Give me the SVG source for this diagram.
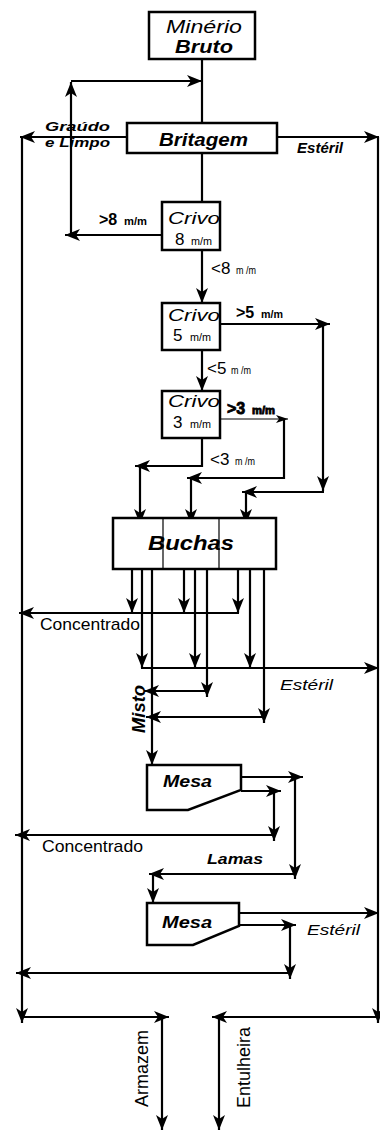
<svg xmlns="http://www.w3.org/2000/svg" width="380" height="1131" viewBox="0 0 380 1131">
<style>
.box{fill:#fff;stroke:#000;stroke-width:2.5}
.ln{fill:none;stroke:#000;stroke-width:2.2}
.thin{fill:none;stroke:#000;stroke-width:1.2}
text{font-family:"Liberation Sans",Arial,sans-serif;fill:#000}
.bi{font-style:italic;font-weight:bold}
.it{font-style:italic}
.b{font-weight:bold}
.sm{font-size:10px}
</style>
<defs>
<marker id="a" markerWidth="16" markerHeight="12" refX="15" refY="6" orient="auto" markerUnits="userSpaceOnUse"><path d="M0,0 L15,6 L0,12 L4,6 z" fill="#000"/></marker>
<marker id="s" markerWidth="12" markerHeight="8" refX="12" refY="4" orient="auto" markerUnits="userSpaceOnUse"><path d="M0,0 L12,4 L0,8 L3,4 z" fill="#000"/></marker>
</defs>
<rect width="380" height="1131" fill="#fff"/>
<g id="connectors">
<line class="ln" x1="202" y1="59" x2="202" y2="123"/>
<line class="ln" x1="162" y1="235" x2="65" y2="235" marker-end="url(#a)"/>
<line class="ln" x1="71" y1="233" x2="71" y2="82" marker-end="url(#a)"/>
<line class="ln" x1="71" y1="81" x2="202" y2="81" marker-end="url(#a)"/>
<line class="ln" x1="127" y1="137" x2="20" y2="137" marker-end="url(#a)"/>
<line class="ln" x1="22" y1="137" x2="22" y2="1023" marker-end="url(#a)"/>
<line class="ln" x1="277" y1="137" x2="379" y2="137" marker-end="url(#a)"/>
<line class="ln" x1="378" y1="137" x2="378" y2="1023" marker-end="url(#a)"/>
<line class="ln" x1="202" y1="153" x2="202" y2="202"/>
<line class="ln" x1="202" y1="250" x2="202" y2="303" marker-end="url(#a)"/>
<line class="ln" x1="220" y1="324" x2="330" y2="324" marker-end="url(#a)"/>
<line class="ln" x1="323" y1="324" x2="323" y2="491" marker-end="url(#a)"/>
<line class="ln" x1="324" y1="492" x2="242" y2="492" marker-end="url(#a)"/>
<line class="ln" x1="246" y1="492" x2="246" y2="524" marker-end="url(#a)"/>
<line class="ln" x1="202" y1="350" x2="202" y2="391" marker-end="url(#a)"/>
<line class="thin" x1="220" y1="419" x2="288" y2="419" marker-end="url(#s)"/>
<line class="ln" x1="284" y1="419" x2="284" y2="479"/>
<line class="ln" x1="285" y1="478" x2="187" y2="478" marker-end="url(#a)"/>
<line class="ln" x1="191" y1="478" x2="191" y2="524" marker-end="url(#a)"/>
<polyline class="ln" points="202,438 202,466 135,466" marker-end="url(#a)"/>
<line class="ln" x1="140" y1="466" x2="140" y2="524" marker-end="url(#a)"/>
<line class="ln" x1="132" y1="570" x2="132" y2="613" marker-end="url(#a)"/>
<line class="ln" x1="184" y1="570" x2="184" y2="613" marker-end="url(#a)"/>
<line class="ln" x1="238" y1="570" x2="238" y2="613" marker-end="url(#a)"/>
<line class="ln" x1="239" y1="613" x2="19" y2="613" marker-end="url(#a)"/>
<line class="ln" x1="142" y1="570" x2="142" y2="668" marker-end="url(#a)"/>
<line class="ln" x1="195" y1="570" x2="195" y2="668" marker-end="url(#a)"/>
<line class="ln" x1="250" y1="570" x2="250" y2="668" marker-end="url(#a)"/>
<line class="ln" x1="141" y1="668" x2="379" y2="668" marker-end="url(#a)"/>
<line class="ln" x1="207" y1="570" x2="207" y2="697" marker-end="url(#a)"/>
<line class="ln" x1="208" y1="691" x2="144" y2="691" marker-end="url(#a)"/>
<line class="ln" x1="264" y1="570" x2="264" y2="723" marker-end="url(#a)"/>
<line class="ln" x1="265" y1="717" x2="146" y2="717" marker-end="url(#a)"/>
<line class="ln" x1="152" y1="570" x2="152" y2="765" marker-end="url(#a)"/>
<line class="ln" x1="241" y1="777" x2="303" y2="777" marker-end="url(#a)"/>
<line class="ln" x1="295" y1="777" x2="295" y2="879" marker-end="url(#a)"/>
<line class="ln" x1="296" y1="874" x2="149" y2="874" marker-end="url(#a)"/>
<line class="ln" x1="153" y1="874" x2="153" y2="903" marker-end="url(#a)"/>
<line class="ln" x1="241" y1="791" x2="281" y2="791" marker-end="url(#a)"/>
<line class="ln" x1="274" y1="791" x2="274" y2="841" marker-end="url(#a)"/>
<line class="ln" x1="275" y1="835" x2="15" y2="835" marker-end="url(#a)"/>
<line class="ln" x1="239" y1="913" x2="379" y2="913" marker-end="url(#a)"/>
<line class="ln" x1="239" y1="925" x2="296" y2="925" marker-end="url(#a)"/>
<line class="ln" x1="290" y1="925" x2="290" y2="979" marker-end="url(#a)"/>
<line class="ln" x1="291" y1="973" x2="16" y2="973" marker-end="url(#a)"/>
<line class="ln" x1="22" y1="1017" x2="169" y2="1017" marker-end="url(#a)"/>
<line class="ln" x1="162" y1="1017" x2="162" y2="1130" marker-end="url(#a)"/>
<line class="ln" x1="379" y1="1017" x2="212" y2="1017" marker-end="url(#a)"/>
<line class="ln" x1="219" y1="1017" x2="219" y2="1130" marker-end="url(#a)"/>
</g>
<g id="minerio">
<rect class="box" x="149" y="12" width="106" height="47"/>
<text class="it" x="166" y="33" font-size="18" textLength="76" lengthAdjust="spacingAndGlyphs">Minério</text>
<text class="bi" x="175" y="53" font-size="18" textLength="58" lengthAdjust="spacingAndGlyphs">Bruto</text>
</g>
<g id="britagem">
<rect class="box" x="127" y="123" width="150" height="30"/>
<text class="bi" x="159" y="146" font-size="19" textLength="89" lengthAdjust="spacingAndGlyphs">Britagem</text>
</g>
<g id="crivo8">
<rect class="box" x="162" y="202" width="58" height="48"/>
<text class="it" x="168" y="224" font-size="17" textLength="52" lengthAdjust="spacingAndGlyphs">Crivo</text>
<text x="175" y="245" font-size="17">8</text>
<text class="sm" x="191" y="245" textLength="21" lengthAdjust="spacingAndGlyphs">m/m</text>
</g>
<g id="crivo5">
<rect class="box" x="162" y="303" width="58" height="47"/>
<text class="it" x="168" y="321" font-size="17" textLength="52" lengthAdjust="spacingAndGlyphs">Crivo</text>
<text x="173" y="341" font-size="17">5</text>
<text class="sm" x="190" y="341" textLength="21" lengthAdjust="spacingAndGlyphs">m/m</text>
</g>
<g id="crivo3">
<rect class="box" x="162" y="391" width="58" height="47"/>
<text class="it" x="168" y="407" font-size="17" textLength="52" lengthAdjust="spacingAndGlyphs">Crivo</text>
<text x="173" y="428" font-size="17">3</text>
<text class="sm" x="190" y="428" textLength="21" lengthAdjust="spacingAndGlyphs">m/m</text>
</g>
<g id="buchas">
<rect class="box" x="113" y="518" width="163" height="51"/>
<line class="thin" x1="163" y1="518" x2="163" y2="569"/>
<line class="thin" x1="219" y1="518" x2="219" y2="569"/>
<text class="bi" x="148" y="550" font-size="21" textLength="86" lengthAdjust="spacingAndGlyphs">Buchas</text>
</g>
<g id="mesa1">
<path class="box" d="M147,765 H241 V790 L188,810 H147 Z"/>
<text class="bi" x="163" y="787" font-size="16" textLength="49" lengthAdjust="spacingAndGlyphs">Mesa</text>
</g>
<g id="mesa2">
<path class="box" d="M147,903 H239 V926 L193,945 H147 Z"/>
<text class="bi" x="162" y="928" font-size="16" textLength="50" lengthAdjust="spacingAndGlyphs">Mesa</text>
</g>
<g id="labels">
<text class="bi" x="45" y="131" font-size="13" textLength="65" lengthAdjust="spacingAndGlyphs">Graúdo</text>
<text class="bi" x="45" y="147" font-size="13" textLength="65" lengthAdjust="spacingAndGlyphs">e Limpo</text>
<text class="bi" x="297" y="153" font-size="14" textLength="46" lengthAdjust="spacingAndGlyphs">Estéril</text>
<text class="b" x="99" y="225" font-size="16">&gt;8</text>
<text class="b sm" x="124" y="225" textLength="23" lengthAdjust="spacingAndGlyphs">m/m</text>
<text x="211" y="274" font-size="17">&lt;8</text>
<text class="sm" x="236" y="274" textLength="20" lengthAdjust="spacingAndGlyphs">m /m</text>
<text class="b" x="236" y="318" font-size="16">&gt;5</text>
<text class="b sm" x="261" y="318" textLength="22" lengthAdjust="spacingAndGlyphs">m/m</text>
<text x="207" y="374" font-size="17">&lt;5</text>
<text class="sm" x="231" y="374" textLength="20" lengthAdjust="spacingAndGlyphs">m /m</text>
<text class="b" x="227" y="414" font-size="16" stroke="#000" stroke-width="0.8">&gt;3</text>
<text class="b sm" x="252" y="414" textLength="23" lengthAdjust="spacingAndGlyphs" stroke="#000" stroke-width="0.8">m/m</text>
<text x="210" y="465" font-size="17">&lt;3</text>
<text class="sm" x="235" y="465" textLength="20" lengthAdjust="spacingAndGlyphs">m /m</text>
<text x="40" y="630" font-size="17" textLength="100" lengthAdjust="spacingAndGlyphs">Concentrado</text>
<text class="it" x="280" y="690" font-size="15" textLength="53" lengthAdjust="spacingAndGlyphs">Estéril</text>
<text class="bi" font-size="18" transform="translate(145,733) rotate(-90)" textLength="48" lengthAdjust="spacingAndGlyphs">Misto</text>
<text x="42" y="852" font-size="17" textLength="101" lengthAdjust="spacingAndGlyphs">Concentrado</text>
<text class="bi" x="207" y="864" font-size="14" textLength="56" lengthAdjust="spacingAndGlyphs">Lamas</text>
<text class="it" x="307" y="935" font-size="15" textLength="53" lengthAdjust="spacingAndGlyphs">Estéril</text>
<text font-size="18" transform="translate(148,1107) rotate(-90)" textLength="77" lengthAdjust="spacingAndGlyphs">Armazem</text>
<text font-size="18" transform="translate(250,1108) rotate(-90)" textLength="81" lengthAdjust="spacingAndGlyphs">Entulheira</text>
</g>
</svg>
